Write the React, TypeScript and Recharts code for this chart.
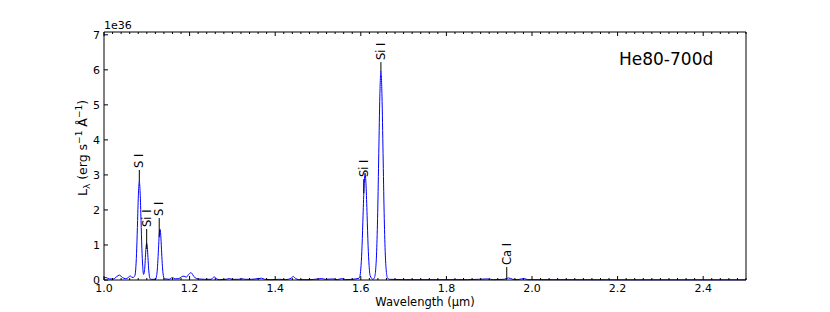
/**
 * Spectrum chart: He80-700d luminosity vs wavelength
 */

import { LineChart, Line, XAxis, YAxis, ReferenceLine } from 'recharts'

// wavelength (micron) and L_lambda (1e36 erg/s/A)
const waves = [
  1.0, 1.005, 1.012, 1.022, 1.03, 1.036, 1.043, 1.05, 1.056, 1.061, 1.065, 1.0685,
  1.0705, 1.0725, 1.0745, 1.0765, 1.0785, 1.0805, 1.0825, 1.0845, 1.0865, 1.0885, 1.0905,
  1.0925, 1.0952, 1.0967, 1.0982, 1.0997, 1.1012, 1.1027, 1.1042, 1.1057, 1.1072, 1.11,
  1.1203, 1.1238, 1.1255, 1.1273, 1.129, 1.1308, 1.1326, 1.1343, 1.1361, 1.1378, 1.1413,
  1.145, 1.152, 1.16, 1.166, 1.175, 1.181, 1.187, 1.192, 1.198, 1.203, 1.208, 1.213, 1.22,
  1.235, 1.25, 1.255, 1.258, 1.262, 1.27, 1.285, 1.293, 1.3, 1.315, 1.322, 1.33, 1.345,
  1.36, 1.368, 1.375, 1.39, 1.41, 1.425, 1.437, 1.442, 1.447, 1.455, 1.48, 1.5, 1.509,
  1.517, 1.535, 1.545, 1.555, 1.565, 1.58,
  1.5959, 1.5983, 1.6006, 1.603, 1.6053, 1.6077, 1.61, 1.6123, 1.6147, 1.617, 1.6194, 1.6217,
  1.6285, 1.632, 1.6345, 1.637, 1.6395, 1.642, 1.6445, 1.647, 1.6495, 1.652, 1.6545, 1.657,
  1.6595, 1.662, 1.667,
  1.7, 1.75, 1.8, 1.85, 1.875, 1.895, 1.91, 1.935, 1.945, 1.955, 1.965, 1.975, 1.982, 1.99,
  2.05, 2.2, 2.35, 2.5,
]
const lum = [
  0.06, 0.07, 0.03, 0.03, 0.1, 0.14, 0.07, 0.04, 0.06, 0.12, 0.08, 0.07,
  0.09, 0.14, 0.38, 0.91, 1.7, 2.48, 2.81, 2.48, 1.7, 0.91, 0.38,
  0.16, 0.34, 0.64, 0.93, 1.05, 0.93, 0.64, 0.34, 0.14, 0.04, 0.02,
  0.02, 0.2, 0.47, 0.88, 1.28, 1.45, 1.28, 0.88, 0.47, 0.2, 0.03,
  0.03, 0.02, 0.07, 0.03, 0.04, 0.09, 0.11, 0.08, 0.16, 0.21, 0.14, 0.06, 0.03,
  0.02, 0.02, 0.07, 0.09, 0.04, 0.01, 0.02, 0.04, 0.02, 0.02, 0.035, 0.02, 0.02,
  0.04, 0.05, 0.02, 0.01, 0.02, 0.01, 0.05, 0.1, 0.05, 0.01, 0.01, 0.03, 0.04,
  0.02, 0.03, 0.01, 0.04, 0.01, 0.02,
  0.05, 0.13, 0.41, 0.99, 1.85, 2.69, 3.05, 2.69, 1.85, 0.99, 0.41, 0.13,
  0.02, 0.07, 0.26, 0.81, 1.93, 3.61, 5.25, 5.95, 5.25, 3.61, 1.93, 0.81,
  0.26, 0.07, 0.02,
  0.01, 0.01, 0.01, 0.01, 0.02, 0.03, 0.01, 0.02, 0.06, 0.02, 0.01, 0.03, 0.04, 0.01,
  0.01, 0.005, 0.005, 0.005,
]

// line identifications: name, wavelength, marker bottom / top (data units)
const lineNames = ['S I', 'Si I', 'S I', 'Si I', 'Si I', 'Ca I']
const lineWaves = [1.0825, 1.0997, 1.129, 1.607, 1.647, 1.941]
const lineLow = [2.8, 0.885, 1.23, 2.48, 5.94, 0.06]
const lineHigh = [3.14, 1.456, 1.77, 2.88, 6.22, 0.37]

const xMajorTicks = [1.0, 1.2, 1.4, 1.6, 1.8, 2.0, 2.2, 2.4]
const yTicks = [0, 1, 2, 3, 4, 5, 6, 7]
const xAllTicks = Array.from({ length: 76 }, (_, i) => 1 + i * 0.02)

const FONT = '"DejaVu Sans", sans-serif'
const data = waves.map((w, i) => ({ w, lum: lum[i] }))

const isMajorX = (v: number) => xMajorTicks.some((t) => Math.abs(t - v) < 1e-6)

const BottomTick = (props: any) => {
  const { x, y, payload } = props
  const major = isMajorX(payload.value)
  return (
    <g>
      <line x1={x} x2={x} y1={y} y2={y - (major ? 4 : 2)} stroke="#000" />
      {major && (
        <text x={x} y={y + 12} textAnchor="middle" fontSize={11} fontFamily={FONT} fill="#000">
          {payload.value.toFixed(1)}
        </text>
      )}
    </g>
  )
}

const TopTick = (props: any) => {
  const { x, y, payload } = props
  const major = isMajorX(payload.value)
  return <line x1={x} x2={x} y1={y} y2={y + (major ? 4 : 2)} stroke="#000" />
}

const LeftTick = (props: any) => {
  const { x, y, payload } = props
  return (
    <g>
      <line x1={x} x2={x + 4} y1={y} y2={y} stroke="#000" />
      <text x={x - 4} y={y + 4} textAnchor="end" fontSize={11} fontFamily={FONT} fill="#000">
        {payload.value}
      </text>
    </g>
  )
}

const RightTick = (props: any) => {
  const { x, y } = props
  return <line x1={x} x2={x - 4} y1={y} y2={y} stroke="#000" />
}

export default function App() {
  return (
    <div style={{ position: 'absolute', left: 0, top: 0, background: '#fff' }}>
      <LineChart
        width={830}
        height={312}
        data={data}
        margin={{ top: 31, right: 83, bottom: 2, left: 64 }}
      >
        <XAxis
          dataKey="w"
          type="number"
          domain={[1.0, 2.5]}
          ticks={xAllTicks}
          interval={0}
          tick={<BottomTick />}
          tickLine={false}
          tickSize={0}
          tickMargin={0}
          height={30}
          stroke="#000"
          label={{
            content: (p: any) => {
              const vb = p.viewBox
              return (
                <text x={vb.x + vb.width / 2} y={vb.y + 26} textAnchor="middle" fontSize={11.5} fontFamily={FONT} fill="#000">
                  Wavelength (μm)
                </text>
              )
            },
          }}
        />
        <XAxis
          xAxisId="top"
          dataKey="w"
          type="number"
          orientation="top"
          domain={[1.0, 2.5]}
          ticks={xAllTicks}
          interval={0}
          tick={<TopTick />}
          tickLine={false}
          tickSize={0}
          tickMargin={0}
          height={1}
          stroke="#000"
          label={{
            content: (p: any) => {
              const vb = p.viewBox
              return (
                <g fontFamily={FONT} fill="#000">
                  <text x={vb.x} y={29} fontSize={11}>1e36</text>
                  <text x={619} y={65} fontSize={17}>He80-700d</text>
                </g>
              )
            },
          }}
        />
        <YAxis
          type="number"
          domain={[0, 7.08]}
          ticks={yTicks}
          interval={0}
          tick={<LeftTick />}
          tickLine={false}
          tickSize={0}
          tickMargin={0}
          width={40}
          stroke="#000"
          label={{
            content: () => (
              <text transform="translate(87, 148) rotate(-90)" textAnchor="middle" fontSize={12.5} fontFamily={FONT} fill="#000">
                L<tspan fontSize={9} dy={3}>λ</tspan>
                <tspan dy={-3}> (erg s</tspan>
                <tspan fontSize={9} dy={-5}>−1</tspan>
                <tspan dy={5}> Å</tspan>
                <tspan fontSize={9} dy={-5}>−1</tspan>
                <tspan dy={5}>)</tspan>
              </text>
            ),
          }}
        />
        <YAxis
          yAxisId="right"
          orientation="right"
          type="number"
          domain={[0, 7.08]}
          ticks={yTicks}
          interval={0}
          tick={<RightTick />}
          tickLine={false}
          tickSize={0}
          tickMargin={0}
          width={1}
          stroke="#000"
        />
        <Line
          dataKey="lum"
          type="monotone"
          stroke="#0000ff"
          strokeWidth={1}
          dot={false}
          isAnimationActive={false}
        />
        {lineNames.map((name, i) => (
          <ReferenceLine
            key={i}
            segment={[
              { x: lineWaves[i], y: lineLow[i] },
              { x: lineWaves[i], y: lineHigh[i] },
            ]}
            stroke="#000"
            strokeWidth={1}
            label={{
              content: (p: any) => {
                const vb = p.viewBox
                return (
                  <text
                    transform={`translate(${vb.x + 4}, ${vb.y - 2}) rotate(-90)`}
                    textAnchor="start"
                    fontSize={11.5}
                    fontFamily={FONT}
                    fill="#000"
                  >
                    {name}
                  </text>
                )
              },
            }}
          />
        ))}
      </LineChart>
    </div>
  )
}
